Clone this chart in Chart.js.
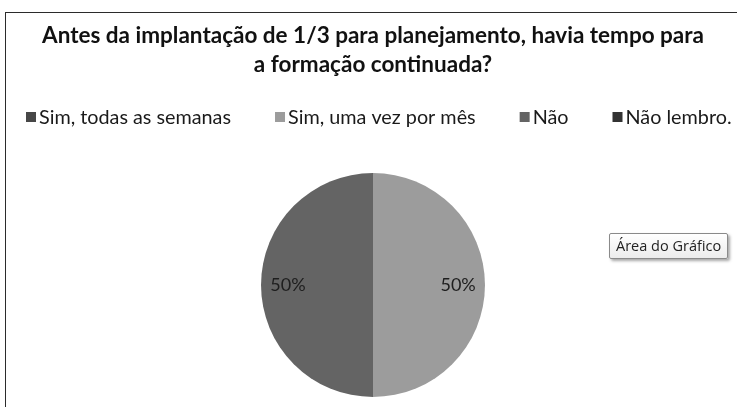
<!DOCTYPE html>
<html>
<head>
<meta charset="utf-8">
<script src="https://cdn.jsdelivr.net/npm/chart.js@4.4.1/dist/chart.umd.min.js"></script>
<style>
  html,body{margin:0;padding:0;background:#fff;}
  #wrap{position:relative;width:737px;height:407px;overflow:hidden;}
  #frame{position:absolute;left:5px;top:12px;width:900px;height:600px;border:1.5px solid #2b2b2b;box-sizing:border-box;}
  canvas{position:absolute;left:0;top:0;}
  #tip{position:absolute;left:609px;top:233px;height:24px;padding:0 6px;border:1px solid #8a8a8a;
       background:linear-gradient(#ffffff,#ececec);box-shadow:2px 2px 3px rgba(0,0,0,0.35);
       font-family:"Open Sans",sans-serif;font-size:14.5px;line-height:24px;color:#222;border-radius:2px;}
</style>
</head>
<body>
<div id="wrap">
  <div id="frame"></div>
  <canvas id="c" width="737" height="407"></canvas>
  <div id="tip">Área do Gráfico</div>
</div>
<script>
const titleLines = ["Antes da implantação de 1/3 para planejamento, havia tempo para", "a formação continuada?"];
const categories = ["Sim, todas as semanas", "Sim, uma vez por mês", "Não", "Não lembro."];
const values = [0, 50, 50, 0];
const sliceColors = ["#474747", "#9c9c9c", "#646464", "#333333"];

const legendPlugin = {
  id: 'customLegend',
  afterDraw(chart) {
    const ctx = chart.ctx;
    ctx.save();
    ctx.font = '19.8px Lato, sans-serif';
    ctx.textBaseline = 'middle';
    const box = 10, gapText = 3, gapItem = 44;
    let x = 26;
    const y = 117;
    categories.forEach((cat, i) => {
      ctx.fillStyle = sliceColors[i];
      ctx.fillRect(x, y - box/2, box, box);
      ctx.fillStyle = '#1a1a1a';
      ctx.fillText(cat, x + box + gapText, y + 1);
      x += box + gapText + ctx.measureText(cat).width + gapItem;
    });
    ctx.restore();
  }
};

const pctPlugin = {
  id: 'pctLabels',
  afterDatasetsDraw(chart) {
    const ctx = chart.ctx;
    const meta = chart.getDatasetMeta(0);
    const total = values.reduce((a, b) => a + b, 0);
    ctx.save();
    ctx.font = '18px Lato, sans-serif';
    ctx.fillStyle = '#1e1e1e';
    ctx.textAlign = 'center';
    ctx.textBaseline = 'middle';
    meta.data.forEach((arc, i) => {
      if (!values[i]) return;
      const p = arc.getProps(['x', 'y', 'startAngle', 'endAngle', 'outerRadius'], true);
      const mid = (p.startAngle + p.endAngle) / 2;
      const r = p.outerRadius * 0.76;
      const label = Math.round(values[i] / total * 100) + '%';
      ctx.fillText(label, p.x + Math.cos(mid) * r, p.y + Math.sin(mid) * r);
    });
    ctx.restore();
  }
};

new Chart(document.getElementById('c'), {
  type: 'pie',
  data: {
    labels: categories,
    datasets: [{
      data: values,
      backgroundColor: sliceColors,
      borderWidth: 0
    }]
  },
  options: {
    responsive: false,
    animation: false,
    layout: { padding: { left: 9, right: 0, top: 0, bottom: 10 } },
    plugins: {
      legend: { display: false },
      tooltip: { enabled: false },
      title: {
        display: true,
        text: titleLines,
        color: '#111',
        font: { family: 'Lato, sans-serif', size: 22.5, weight: 'bold', lineHeight: 1.29 },
        padding: { top: 21, bottom: 94 }
      }
    }
  },
  plugins: [legendPlugin, pctPlugin]
});
</script>
</body>
</html>
